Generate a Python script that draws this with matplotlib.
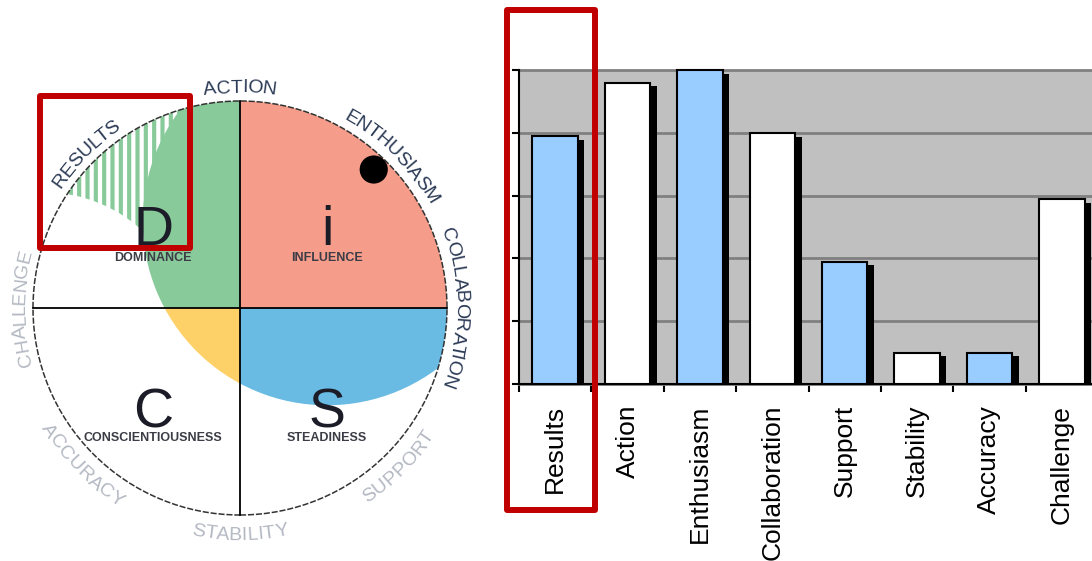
import numpy as np
import matplotlib
matplotlib.use('Agg')
import matplotlib.pyplot as plt
from matplotlib.patches import Wedge, Circle, Rectangle
from matplotlib.font_manager import FontProperties
from matplotlib.textpath import TextToPath

plt.rcParams['font.family'] = ['Liberation Sans', 'DejaVu Sans']
plt.rcParams['hatch.linewidth'] = 3.0

# bar chart data
categories = ['Results', 'Action', 'Enthusiasm', 'Collaboration',
              'Support', 'Stability', 'Accuracy', 'Challenge']
scores = [79, 96, 100, 80, 39, 10, 10, 59]
highlighted = [True, False, True, False, True, False, True, False]

# wheel data (labels go clockwise from the top)
wheel_labels = ['ACTION', 'ENTHUSIASM', 'COLLABORATION', 'SUPPORT',
                'STABILITY', 'ACCURACY', 'CHALLENGE', 'RESULTS']
wheel_label_dark = [True, True, True, False, False, False, False, True]
quad_letters = ['D', 'i', 'S', 'C']
quad_names = ['DOMINANCE', 'INFLUENCE', 'STEADINESS', 'CONSCIENTIOUSNESS']
dot_angle = 46
dot_dist = 0.93

W, H = 1092, 561
fig = plt.figure(figsize=(W / 100, H / 100), dpi=100)

# ---------------- wheel ----------------
CX, CY, R = 240, 308, 207
wax = fig.add_axes([0, 0, 490 / W, 1])
wax.set_xlim(-CX / R, (490 - CX) / R)
wax.set_ylim((CY - H) / R, CY / R)
wax.axis('off')

quad_theta = {'D': (90, 180), 'i': (0, 90), 'S': (270, 360), 'C': (180, 270)}
quad_color = {'D': '#88ca9a', 'i': '#f59d8a', 'S': '#69bbe3', 'C': '#fed068'}
quad_sign = {'D': (-1, 1), 'i': (1, 1), 'S': (1, -1), 'C': (-1, -1)}


def quad_wedge(q, **kw):
    t0, t1 = quad_theta[q]
    return Wedge((0, 0), 1, t0, t1, transform=wax.transData, **kw)


# hatched "results" stretch in the D quadrant
wax.add_patch(quad_wedge('D', facecolor='white', edgecolor=quad_color['D'],
                         hatch='||', linewidth=0))
dome = Circle((-0.95, -0.15), 0.71, facecolor='white', edgecolor='none')
wax.add_patch(dome)
dome.set_clip_path(quad_wedge('D'))

# priority blob
for q in quad_letters:
    if q == 'i':
        wax.add_patch(quad_wedge(q, facecolor=quad_color[q], edgecolor='none'))
        continue
    blob = Circle((0.42, 0.42), 0.89, facecolor=quad_color[q], edgecolor='none')
    wax.add_patch(blob)
    blob.set_clip_path(quad_wedge(q))

wax.plot([-1, 1], [0, 0], color='black', lw=1.3)
wax.plot([0, 0], [-1, 1], color='black', lw=1.3)
wax.add_patch(Circle((0, 0), 1, fill=False, edgecolor='#333333', lw=1.1,
                     ls=(0, (4, 1.2))))

a = np.radians(dot_angle)
wax.add_patch(Circle((dot_dist * np.cos(a), dot_dist * np.sin(a)), 0.068,
                     facecolor='black'))

for q, name in zip(quad_letters, quad_names):
    sx, sy = quad_sign[q]
    by = 0.304 if sy > 0 else -0.575
    ly = 0.24 if sy > 0 else -0.628
    wax.text(sx * 0.42, by, q, fontsize=40, ha='center', va='baseline',
             color='#1c1c28')
    wax.text(sx * 0.42, ly, name, fontsize=9, fontweight='bold',
             ha='center', va='center', color='#3c3c46')

# curved labels round the wheel
t2p = TextToPath()
lab_prop = FontProperties(family='Liberation Sans', size=14)
cap = 0.716 * 14 * 100 / 72 / R


def width_units(s):
    if not s:
        return 0.0
    w, _, _ = t2p.get_text_width_height_descent(s, lab_prop, ismath=False)
    return w * 100 / 72 / R


def arc_text(s, ang, r_mid, clockwise, color):
    total = width_units(s)
    tc = np.radians(ang)
    r_base = r_mid - cap / 2 if clockwise else r_mid + cap / 2
    for k, ch in enumerate(s):
        mid = (width_units(s[:k]) + width_units(s[:k + 1])) / 2 - total / 2
        if clockwise:
            th = tc - mid / r_mid
            rot = np.degrees(th) - 90
        else:
            th = tc + mid / r_mid
            rot = np.degrees(th) + 90
        wax.text(r_base * np.cos(th), r_base * np.sin(th), ch, rotation=rot,
                 rotation_mode='anchor', ha='center', va='baseline',
                 fontproperties=lab_prop, color=color)


for k, (lab, dark) in enumerate(zip(wheel_labels, wheel_label_dark)):
    ang = 90 - 45 * k
    cw = np.sin(np.radians(ang)) > -1e-6
    arc_text(lab, ang, 1.075 if cw else 1.088, cw,
             '#2b3a55' if dark else '#b3b8c2')

# ---------------- bar chart ----------------
bax = fig.add_axes([519 / W, (H - 384) / H, (1098 - 519) / W, (384 - 70) / H])
x = np.arange(len(categories))
bax.set_facecolor('#c0c0c0')
bax.bar(x + 0.09, np.array(scores) - 1.2, 0.63, color='black', zorder=2,
        clip_on=False)
bax.bar(x, scores, 0.63, color=['#99ccff' if h else 'white' for h in highlighted],
        edgecolor='black', linewidth=1.5, zorder=3, clip_on=False)
bax.set_xlim(-0.5, len(categories) - 0.5)
bax.set_ylim(0, 100)
bax.set_yticks(np.arange(0, 101, 20))
bax.set_yticklabels([])
bax.yaxis.grid(True, color='#808080', lw=2)
for gl in bax.get_ygridlines():
    gl.set_clip_on(False)
bax.set_axisbelow(True)
bax.set_xticks(x)
bax.set_xticklabels(categories, rotation=90, fontsize=19)
bax.set_xticks(np.arange(-0.5, len(categories)), minor=True)
bax.tick_params(axis='x', which='major', length=0, pad=15)
bax.tick_params(axis='x', which='minor', length=6, width=1.5, direction='out')
bax.tick_params(axis='y', length=5, width=1.5, direction='out')
for side in ['top', 'right']:
    bax.spines[side].set_visible(False)
for side in ['left', 'bottom']:
    bax.spines[side].set_linewidth(1.5)
    bax.spines[side].set_color('black')


# red highlight boxes
def red_box(x0, y0, x1, y1):
    fig.add_artist(Rectangle((x0 / W, 1 - y1 / H), (x1 - x0) / W, (y1 - y0) / H,
                             transform=fig.transFigure, fill=False,
                             edgecolor='#c00000', lw=4.3, joinstyle='round'))


red_box(40, 96, 190, 248)
red_box(507, 10, 595, 510)

fig.savefig('out.png', dpi=100)
